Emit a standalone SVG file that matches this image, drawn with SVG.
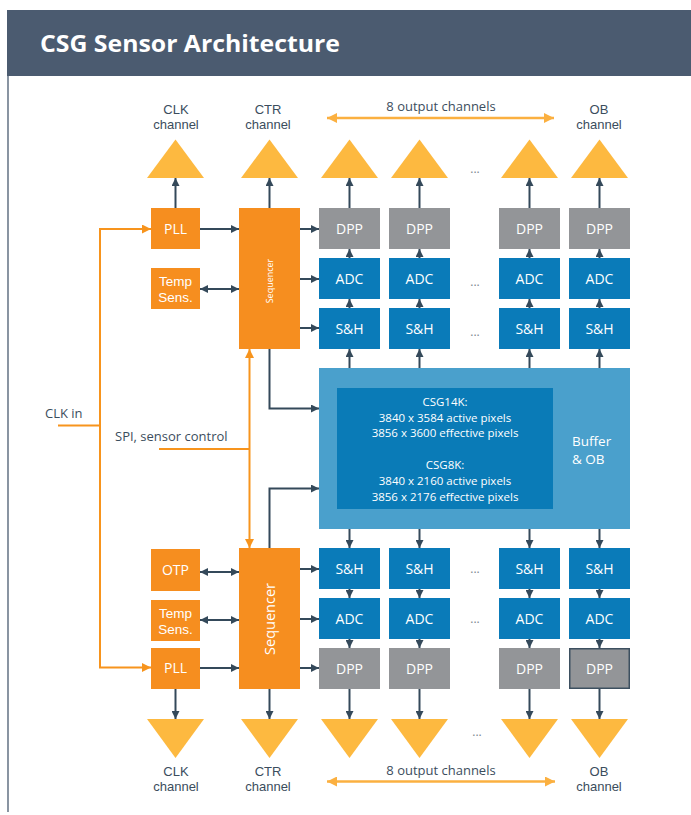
<svg xmlns="http://www.w3.org/2000/svg" width="691" height="815" viewBox="0 0 691 815">
<style>
.lbl{font-family:"Open Sans","Liberation Sans",sans-serif;font-size:13px;fill:#3b4d5d;text-anchor:middle}
.ch{font-family:"Liberation Sans",Arial,sans-serif;font-size:13px;fill:#3b4d5d;text-anchor:middle}
.bt{font-family:"Open Sans","Liberation Sans",sans-serif;font-size:14px;fill:#ffffff;text-anchor:middle}
.bt2{font-family:"Liberation Sans",Arial,sans-serif;font-size:13.5px;fill:#ffffff;text-anchor:middle}
.it{font-family:"Open Sans","Liberation Sans",sans-serif;font-size:11.5px;fill:#ffffff;text-anchor:middle}
.dots{font-family:"Open Sans","Liberation Sans",sans-serif;font-size:12px;fill:#7d8790;text-anchor:middle}
.or{fill:#f68e1f}
.bl{fill:#0a7bb9}
.gr{fill:#939598}
.tri{fill:#fdb940}
.dk{stroke:#34495a;stroke-width:2;fill:none}
.og{stroke:#f7941d;stroke-width:2;fill:none}
.yl{stroke:#fbb040;stroke-width:2.5;fill:none}
</style>
<defs>
<marker id="ad" viewBox="0 0 10 10" refX="10" refY="5" markerWidth="8" markerHeight="8" markerUnits="userSpaceOnUse" orient="auto-start-reverse"><path d="M0,0 L10,5 L0,10 z" fill="#34495a"/></marker>
<marker id="ao" viewBox="0 0 10 10" refX="10" refY="5" markerWidth="9" markerHeight="9" markerUnits="userSpaceOnUse" orient="auto-start-reverse"><path d="M0,0 L10,5 L0,10 z" fill="#f7941d"/></marker>
<marker id="ay" viewBox="0 0 10 10" refX="10" refY="5" markerWidth="10" markerHeight="10" markerUnits="userSpaceOnUse" orient="auto-start-reverse"><path d="M0,0 L10,5 L0,10 z" fill="#fbb040"/></marker>
</defs>
<rect width="691" height="815" fill="#ffffff"/>
<g id="header">
<rect x="7" y="10" width="684" height="66" fill="#4b5b70"/>
<text x="40" y="52" font-family="'Open Sans','Liberation Sans',sans-serif" font-size="23" font-weight="bold" fill="#ffffff" textLength="300" lengthAdjust="spacingAndGlyphs">CSG Sensor Architecture</text>
</g>
<line x1="8" y1="76" x2="8" y2="812" stroke="#4b5b70" stroke-width="1.3"/>

<g id="connectors">
<line class="dk" x1="175.5" y1="208" x2="175.5" y2="178" marker-end="url(#ad)"/>
<line class="dk" x1="269.5" y1="208" x2="269.5" y2="178" marker-end="url(#ad)"/>
<line class="dk" x1="349.5" y1="208" x2="349.5" y2="178" marker-end="url(#ad)"/>
<line class="dk" x1="419.5" y1="208" x2="419.5" y2="178" marker-end="url(#ad)"/>
<line class="dk" x1="529.5" y1="208" x2="529.5" y2="178" marker-end="url(#ad)"/>
<line class="dk" x1="599.5" y1="208" x2="599.5" y2="178" marker-end="url(#ad)"/>
<line class="dk" x1="349.5" y1="258" x2="349.5" y2="249" marker-end="url(#ad)"/>
<line class="dk" x1="419.5" y1="258" x2="419.5" y2="249" marker-end="url(#ad)"/>
<line class="dk" x1="529.5" y1="258" x2="529.5" y2="249" marker-end="url(#ad)"/>
<line class="dk" x1="599.5" y1="258" x2="599.5" y2="249" marker-end="url(#ad)"/>
<line class="dk" x1="349.5" y1="308" x2="349.5" y2="299" marker-end="url(#ad)"/>
<line class="dk" x1="419.5" y1="308" x2="419.5" y2="299" marker-end="url(#ad)"/>
<line class="dk" x1="529.5" y1="308" x2="529.5" y2="299" marker-end="url(#ad)"/>
<line class="dk" x1="599.5" y1="308" x2="599.5" y2="299" marker-end="url(#ad)"/>
<line class="dk" x1="349.5" y1="368" x2="349.5" y2="349" marker-end="url(#ad)"/>
<line class="dk" x1="419.5" y1="368" x2="419.5" y2="349" marker-end="url(#ad)"/>
<line class="dk" x1="529.5" y1="368" x2="529.5" y2="349" marker-end="url(#ad)"/>
<line class="dk" x1="599.5" y1="368" x2="599.5" y2="349" marker-end="url(#ad)"/>
<line class="dk" x1="349.5" y1="529" x2="349.5" y2="548" marker-end="url(#ad)"/>
<line class="dk" x1="419.5" y1="529" x2="419.5" y2="548" marker-end="url(#ad)"/>
<line class="dk" x1="529.5" y1="529" x2="529.5" y2="548" marker-end="url(#ad)"/>
<line class="dk" x1="599.5" y1="529" x2="599.5" y2="548" marker-end="url(#ad)"/>
<line class="dk" x1="349.5" y1="589" x2="349.5" y2="598" marker-end="url(#ad)"/>
<line class="dk" x1="419.5" y1="589" x2="419.5" y2="598" marker-end="url(#ad)"/>
<line class="dk" x1="529.5" y1="589" x2="529.5" y2="598" marker-end="url(#ad)"/>
<line class="dk" x1="599.5" y1="589" x2="599.5" y2="598" marker-end="url(#ad)"/>
<line class="dk" x1="349.5" y1="639" x2="349.5" y2="648" marker-end="url(#ad)"/>
<line class="dk" x1="419.5" y1="639" x2="419.5" y2="648" marker-end="url(#ad)"/>
<line class="dk" x1="529.5" y1="639" x2="529.5" y2="648" marker-end="url(#ad)"/>
<line class="dk" x1="599.5" y1="639" x2="599.5" y2="648" marker-end="url(#ad)"/>
<line class="dk" x1="175.5" y1="689" x2="175.5" y2="719" marker-end="url(#ad)"/>
<line class="dk" x1="269.5" y1="689" x2="269.5" y2="719" marker-end="url(#ad)"/>
<line class="dk" x1="349.5" y1="689" x2="349.5" y2="719" marker-end="url(#ad)"/>
<line class="dk" x1="419.5" y1="689" x2="419.5" y2="719" marker-end="url(#ad)"/>
<line class="dk" x1="529.5" y1="689" x2="529.5" y2="719" marker-end="url(#ad)"/>
<line class="dk" x1="599.5" y1="689" x2="599.5" y2="719" marker-end="url(#ad)"/>
<line class="dk" x1="200" y1="229" x2="239" y2="229" marker-end="url(#ad)"/>
<line class="dk" x1="200" y1="289" x2="239" y2="289" marker-start="url(#ad)" marker-end="url(#ad)"/>
<line class="dk" x1="300" y1="229" x2="319" y2="229" marker-end="url(#ad)"/>
<line class="dk" x1="300" y1="279" x2="319" y2="279" marker-end="url(#ad)"/>
<line class="dk" x1="300" y1="328" x2="319" y2="328" marker-end="url(#ad)"/>
<line class="dk" x1="200" y1="572" x2="239" y2="572" marker-start="url(#ad)" marker-end="url(#ad)"/>
<line class="dk" x1="200" y1="620" x2="239" y2="620" marker-start="url(#ad)" marker-end="url(#ad)"/>
<line class="dk" x1="200" y1="668" x2="239" y2="668" marker-end="url(#ad)"/>
<line class="dk" x1="300" y1="569" x2="319" y2="569" marker-end="url(#ad)"/>
<line class="dk" x1="300" y1="619" x2="319" y2="619" marker-end="url(#ad)"/>
<line class="dk" x1="300" y1="668" x2="319" y2="668" marker-end="url(#ad)"/>
<polyline class="dk" points="269.5,349 269.5,408.5 319,408.5" marker-end="url(#ad)"/>
<polyline class="dk" points="269.5,548 269.5,488.5 319,488.5" marker-end="url(#ad)"/>
<line class="og" x1="58" y1="425.5" x2="100" y2="425.5"/>
<polyline class="og" points="151,229 100,229 100,667.5 151,667.5" marker-start="url(#ao)" marker-end="url(#ao)"/>
<line class="og" x1="159" y1="449" x2="249.5" y2="449"/>
<line class="og" x1="249.5" y1="349" x2="249.5" y2="548" marker-start="url(#ao)" marker-end="url(#ao)"/>
<line class="yl" x1="327" y1="118" x2="554" y2="118" marker-start="url(#ay)" marker-end="url(#ay)"/>
<line class="yl" x1="327" y1="781.5" x2="555" y2="781.5" marker-start="url(#ay)" marker-end="url(#ay)"/>
</g>

<g id="top-outputs">
<text class="ch" x="176" y="114">CLK</text><text class="ch" x="176" y="129">channel</text>
<text class="ch" x="268" y="114">CTR</text><text class="ch" x="268" y="129">channel</text>
<text class="lbl" x="441" y="111">8 output channels</text>
<text class="ch" x="599" y="114">OB</text><text class="ch" x="599" y="129">channel</text>
<polygon class="tri" points="147,178 175.5,139.5 204,178"/>
<polygon class="tri" points="241,178 269.5,139.5 298,178"/>
<polygon class="tri" points="321,178 349.5,139.5 378,178"/>
<polygon class="tri" points="391,178 419.5,139.5 448,178"/>
<polygon class="tri" points="501,178 529.5,139.5 558,178"/>
<polygon class="tri" points="571,178 599.5,139.5 628,178"/>
<text class="dots" x="475" y="173">...</text>
</g>

<g id="pll-top"><rect class="or" x="151" y="208" width="49" height="41"/><text class="bt" x="175.5" y="234">PLL</text></g>
<g id="temp-top"><rect class="or" x="151" y="268" width="49" height="41"/><text class="bt2" x="175.5" y="286">Temp</text><text class="bt2" x="175.5" y="302">Sens.</text></g>
<g id="seq-top"><rect class="or" x="239" y="208" width="61" height="141"/><text x="273" y="281" transform="rotate(-90 273 281)" font-family="'Open Sans','Liberation Sans',sans-serif" font-size="9" fill="#ffffff" text-anchor="middle">Sequencer</text></g>

<g id="top-columns">
<rect class="gr" x="319" y="208" width="61" height="41"/><text class="bt" x="349.5" y="234">DPP</text>
<rect class="gr" x="389" y="208" width="61" height="41"/><text class="bt" x="419.5" y="234">DPP</text>
<rect class="gr" x="499" y="208" width="61" height="41"/><text class="bt" x="529.5" y="234">DPP</text>
<rect class="gr" x="569" y="208" width="61" height="41"/><text class="bt" x="599.5" y="234">DPP</text>
<rect class="bl" x="319" y="258" width="61" height="41"/><text class="bt" x="349.5" y="284">ADC</text>
<rect class="bl" x="389" y="258" width="61" height="41"/><text class="bt" x="419.5" y="284">ADC</text>
<rect class="bl" x="499" y="258" width="61" height="41"/><text class="bt" x="529.5" y="284">ADC</text>
<rect class="bl" x="569" y="258" width="61" height="41"/><text class="bt" x="599.5" y="284">ADC</text>
<rect class="bl" x="319" y="308" width="61" height="41"/><text class="bt" x="349.5" y="334">S&amp;H</text>
<rect class="bl" x="389" y="308" width="61" height="41"/><text class="bt" x="419.5" y="334">S&amp;H</text>
<rect class="bl" x="499" y="308" width="61" height="41"/><text class="bt" x="529.5" y="334">S&amp;H</text>
<rect class="bl" x="569" y="308" width="61" height="41"/><text class="bt" x="599.5" y="334">S&amp;H</text>
<text class="dots" x="475" y="286">...</text>
<text class="dots" x="475" y="336">...</text>
</g>

<g id="buffer">
<rect x="319" y="368" width="311" height="161" fill="#4aa0cc"/>
<rect x="337" y="388" width="216" height="121" fill="#0a7bb7"/>
<text class="it" x="445" y="406">CSG14K:</text>
<text class="it" x="445" y="421.5">3840 x 3584 active pixels</text>
<text class="it" x="445" y="437">3856 x 3600 effective pixels</text>
<text class="it" x="445" y="469">CSG8K:</text>
<text class="it" x="445" y="485">3840 x 2160 active pixels</text>
<text class="it" x="445" y="501">3856 x 2176 effective pixels</text>
<text x="572" y="446" font-family="'Open Sans','Liberation Sans',sans-serif" font-size="13.5" fill="#ffffff">Buffer</text>
<text x="572" y="464" font-family="'Open Sans','Liberation Sans',sans-serif" font-size="13.5" fill="#ffffff">&amp; OB</text>
</g>

<g id="inputs">
<text x="45" y="418" font-family="'Open Sans','Liberation Sans',sans-serif" font-size="13" fill="#3b4d5d">CLK in</text>
<text x="115" y="441" font-family="'Open Sans','Liberation Sans',sans-serif" font-size="13" fill="#3b4d5d">SPI, sensor control</text>
</g>

<g id="otp"><rect class="or" x="151" y="549" width="49" height="42"/><text class="bt" x="175.5" y="575">OTP</text></g>
<g id="temp-bot"><rect class="or" x="151" y="600" width="49" height="41"/><text class="bt2" x="175.5" y="618">Temp</text><text class="bt2" x="175.5" y="634">Sens.</text></g>
<g id="pll-bot"><rect class="or" x="151" y="648" width="49" height="41"/><text class="bt" x="175.5" y="673">PLL</text></g>
<g id="seq-bot"><rect class="or" x="239" y="548" width="61" height="141"/><text x="274.5" y="619" transform="rotate(-90 274.5 619)" font-family="'Open Sans','Liberation Sans',sans-serif" font-size="14.5" fill="#ffffff" text-anchor="middle">Sequencer</text></g>

<g id="bottom-columns">
<rect class="bl" x="319" y="548" width="61" height="41"/><text class="bt" x="349.5" y="574">S&amp;H</text>
<rect class="bl" x="389" y="548" width="61" height="41"/><text class="bt" x="419.5" y="574">S&amp;H</text>
<rect class="bl" x="499" y="548" width="61" height="41"/><text class="bt" x="529.5" y="574">S&amp;H</text>
<rect class="bl" x="569" y="548" width="61" height="41"/><text class="bt" x="599.5" y="574">S&amp;H</text>
<rect class="bl" x="319" y="598" width="61" height="41"/><text class="bt" x="349.5" y="624">ADC</text>
<rect class="bl" x="389" y="598" width="61" height="41"/><text class="bt" x="419.5" y="624">ADC</text>
<rect class="bl" x="499" y="598" width="61" height="41"/><text class="bt" x="529.5" y="624">ADC</text>
<rect class="bl" x="569" y="598" width="61" height="41"/><text class="bt" x="599.5" y="624">ADC</text>
<rect class="gr" x="319" y="648" width="61" height="41"/><text class="bt" x="349.5" y="674">DPP</text>
<rect class="gr" x="389" y="648" width="61" height="41"/><text class="bt" x="419.5" y="674">DPP</text>
<rect class="gr" x="499" y="648" width="61" height="41"/><text class="bt" x="529.5" y="674">DPP</text>
<rect class="gr" x="569.75" y="648.75" width="59.5" height="39.5" stroke="#3d5060" stroke-width="1.5"/><text class="bt" x="599.5" y="674">DPP</text>
<text class="dots" x="475" y="573">...</text>
<text class="dots" x="475" y="623">...</text>
</g>

<g id="bottom-outputs">
<polygon class="tri" points="147,719 175.5,758 204,719"/>
<polygon class="tri" points="241,719 269.5,758 298,719"/>
<polygon class="tri" points="321,719 349.5,758 378,719"/>
<polygon class="tri" points="391,719 419.5,758 448,719"/>
<polygon class="tri" points="501,719 529.5,758 558,719"/>
<polygon class="tri" points="571,719 599.5,758 628,719"/>
<text class="dots" x="477" y="736">...</text>
<text class="ch" x="176" y="776">CLK</text><text class="ch" x="176" y="791">channel</text>
<text class="ch" x="268" y="776">CTR</text><text class="ch" x="268" y="791">channel</text>
<text class="lbl" x="441" y="775">8 output channels</text>
<text class="ch" x="599" y="776">OB</text><text class="ch" x="599" y="791">channel</text>
</g>
</svg>
